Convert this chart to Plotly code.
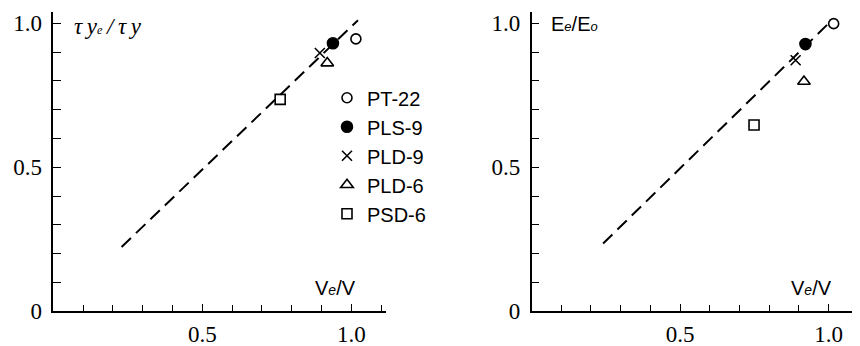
import plotly.graph_objects as go

# ---- data ----
series = ["PT-22", "PLS-9", "PLD-9", "PLD-6", "PSD-6"]
symbols = ["circle-open", "circle", "x-thin-open", "triangle-up-open", "square-open"]
sizes = [10, 11, 10, 11, 10]

# left panel: tau_ye/tau_y vs Ve/V
left_x = [1.015, 0.938, 0.894, 0.919, 0.761]
left_y = [0.946, 0.931, 0.897, 0.862, 0.736]
left_fit_x = [0.229, 1.022]
left_fit_y = [0.223, 1.011]

# right panel: Ee/Eo vs Ve/V
right_x = [1.017, 0.922, 0.889, 0.917, 0.749]
right_y = [0.999, 0.928, 0.872, 0.798, 0.647]
right_fit_x = [0.241, 1.0]
right_fit_y = [0.235, 1.0]

x_ticks = [0.5, 1.0]
x_ticklabels = ["0.5", "1.0"]
y_ticks = [0, 0.5, 1.0]
y_ticklabels = ["0", "0.5", "1.0"]

W, H = 860, 346
fig = go.Figure()

# dashed fit lines
fig.add_trace(go.Scatter(x=left_fit_x, y=left_fit_y, mode="lines",
                         line=dict(color="black", width=2, dash="13px,7px"),
                         showlegend=False, xaxis="x", yaxis="y"))
fig.add_trace(go.Scatter(x=right_fit_x, y=right_fit_y, mode="lines",
                         line=dict(color="black", width=2, dash="13px,7px"),
                         showlegend=False, xaxis="x2", yaxis="y2"))

for i, name in enumerate(series):
    mk = dict(symbol=symbols[i], size=sizes[i], color="black",
              line=dict(color="black", width=1.6))
    fig.add_trace(go.Scatter(x=[left_x[i]], y=[left_y[i]], mode="markers", name=name,
                             marker=mk, showlegend=True, xaxis="x", yaxis="y"))
    fig.add_trace(go.Scatter(x=[right_x[i]], y=[right_y[i]], mode="markers", name=name,
                             marker=mk, showlegend=False, xaxis="x2", yaxis="y2"))

tickfont = dict(family="Liberation Serif", size=23, color="black")
xax = dict(range=[0, 1.116], showgrid=False, zeroline=False, showline=True,
           linecolor="black", linewidth=1.5, ticks="inside", ticklen=7,
           tickcolor="black", tickwidth=1.3,
           tickmode="array", tickvals=x_ticks, ticktext=x_ticklabels,
           tickfont=tickfont, ticklabelstandoff=1,
           minor=dict(ticks="inside", ticklen=6, tickcolor="black", tickwidth=1.3,
                      tick0=0, dtick=0.1, showgrid=False))
yax = dict(range=[0, 1.04], showgrid=False, zeroline=False, showline=True,
           linecolor="black", linewidth=1.5, ticks="inside", ticklen=8,
           tickcolor="black", tickwidth=1.3,
           tickmode="array", tickvals=y_ticks, ticktext=y_ticklabels,
           tickfont=tickfont, ticklabelstandoff=5,
           minor=dict(ticks="inside", ticklen=8, tickcolor="black", tickwidth=1.3,
                      tick0=0, dtick=0.1, showgrid=False))

ydom = [(H - 315) / H, (H - 4) / H]
fig.update_layout(
    width=W, height=H,
    margin=dict(l=0, r=0, t=0, b=0),
    paper_bgcolor="white", plot_bgcolor="white",
    xaxis=dict(xax, domain=[45.3 / W, 378 / W], anchor="y"),
    yaxis=dict(yax, domain=ydom, anchor="x"),
    xaxis2=dict(xax, range=[0, 1.11], domain=[523.5 / W, 853.3 / W], anchor="y2"),
    yaxis2=dict(yax, domain=ydom, anchor="x2"),
    legend=dict(x=319 / W, y=(H - 73) / H, xanchor="left", yanchor="top",
                bgcolor="rgba(0,0,0,0)", itemwidth=30,
                font=dict(family="Liberation Sans", size=20, color="black"),
                tracegroupgap=0),
    showlegend=True,
)

labfont = dict(family="Liberation Serif", size=23, color="black")
fig.add_annotation(x=0.062, y=0.988, xref="x", yref="y", xanchor="left", yanchor="middle",
                   showarrow=False, font=labfont,
                   text="<i>τ\u2009y</i><span style='font-size:12px'><i>e</i></span><i>\u2009/\u2009τ\u2009y</i>")
fig.add_annotation(x=0.06, y=0.997, xref="x2", yref="y2", xanchor="left", yanchor="middle",
                   showarrow=False, font=dict(family="Liberation Sans", size=20, color="black"),
                   text="E<span style='font-size:13px'><i>e</i></span>/E<span style='font-size:13px'><i>o</i></span>")
vfont = dict(family="Liberation Sans", size=20, color="black")
fig.add_annotation(x=0.87, y=0.08, xref="x", yref="y", xanchor="left", yanchor="middle",
                   showarrow=False, font=vfont,
                   text="V<span style='font-size:14px'><i>e</i></span>/V")
fig.add_annotation(x=0.865, y=0.08, xref="x2", yref="y2", xanchor="left", yanchor="middle",
                   showarrow=False, font=vfont,
                   text="V<span style='font-size:14px'><i>e</i></span>/V")

fig.write_html("out.html")
